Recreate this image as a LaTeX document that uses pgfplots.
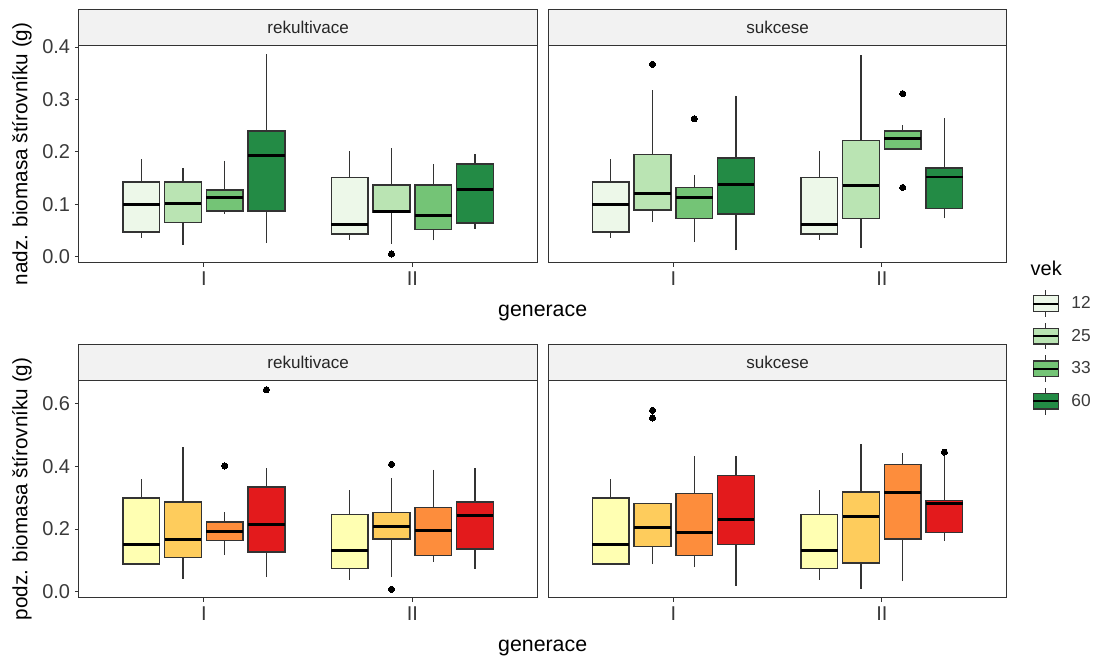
\documentclass[border=0pt]{standalone}
\usepackage{fontspec}
\setmainfont{Liberation Sans}
\usepackage{pgfplots}
\pgfplotsset{compat=1.18}
\usepgfplotslibrary{statistics}
\definecolor{gA}{HTML}{EDF8E9}
\definecolor{gB}{HTML}{BAE4B3}
\definecolor{gC}{HTML}{74C476}
\definecolor{gD}{HTML}{238B45}
\definecolor{oA}{HTML}{FFFFB2}
\definecolor{oB}{HTML}{FECC5C}
\definecolor{oC}{HTML}{FD8D3C}
\definecolor{oD}{HTML}{E31A1C}
\definecolor{gray20}{HTML}{333333}
\definecolor{stripgray}{HTML}{F2F2F2}
\definecolor{ticktext}{HTML}{3A3A3A}
% \bx{position}{fill}{lower whisker}{q1}{median}{q3}{upper whisker}{outliers}
\newcommand{\bx}[8]{\addplot[boxplot prepared={draw position=#1, lower whisker=#3, lower quartile=#4, median=#5, upper quartile=#6, upper whisker=#7, box extend=0.176, whisker extend=0}, boxplot/draw direction=y, fill=#2, draw=gray20, line width=1.1pt, mark=*, mark size=2.3pt, mark options={draw=black, fill=black, line width=0pt}, boxplot/every median/.style={draw=black, line width=2.2pt}, boxplot/every whisker/.style={draw=gray20, line width=0.9pt}] coordinates {#8};}
\pgfplotsset{
  panel/.style={scale only axis, width=344pt, height=163.1pt,
    xmin=0.4, xmax=2.6, xtick={1,2}, xticklabels={I,II},
    tick align=outside, tick pos=left, major tick length=3pt,
    axis line style={draw=gray20, line width=0.8pt},
    every tick/.style={draw=gray20, line width=0.7pt},
    clip=false,
    ticklabel style={font=\fontsize{15}{17}\selectfont, text=ticktext},
    /pgf/number format/assume math mode=true,
    yticklabel style={/pgf/number format/.cd, fixed, fixed zerofill, precision=1},
  },
  toprow/.style={panel, ymin=-0.0115, ymax=0.4034, ytick={0,0.1,0.2,0.3,0.4}},
  botrow/.style={panel, ymin=-0.019, ymax=0.674, ytick={0,0.2,0.4,0.6}},
}
\newcommand{\strip}[1]{\draw[fill=stripgray, draw=gray20, line width=0.8pt] (rel axis cs:0,1) rectangle ([yshift=27pt]rel axis cs:1,1);
  \node[font=\fontsize{12.8}{14}\selectfont, text=black!85] at ([yshift=13.5pt]rel axis cs:0.5,1) {#1};}
\newcommand{\legimg}[1]{\addlegendimage{legend image code/.code={
  \draw[gray20, line width=0.9pt] (9.4pt,5.9pt) -- (9.4pt,10pt) (9.4pt,-5.9pt) -- (9.4pt,-10pt);
  \draw[fill=#1, draw=gray20, line width=1.1pt] (0pt,-5.9pt) rectangle (18.8pt,5.9pt);
  \draw[black, line width=1.6pt] (0pt,0pt) -- (18.8pt,0pt);}}}
\begin{document}
\begin{tikzpicture}
\path[use as bounding box] (0,0) rectangle (823.5pt,-495.75pt);
% ---------- top left ----------
\begin{axis}[toprow, at={(59.1pt,-197.0pt)}, anchor=south west]
\bx{0.7}{gA}{0.036}{0.047}{0.099}{0.142}{0.186}{}
\bx{0.9}{gB}{0.023}{0.065}{0.101}{0.142}{0.170}{}
\bx{1.1}{gC}{0.081}{0.087}{0.112}{0.127}{0.183}{}
\bx{1.3}{gD}{0.026}{0.087}{0.193}{0.240}{0.386}{}
\bx{1.7}{gA}{0.031}{0.043}{0.062}{0.151}{0.201}{}
\bx{1.9}{gB}{0.025}{0.084}{0.086}{0.137}{0.207}{(0,0.005)}
\bx{2.1}{gC}{0.031}{0.052}{0.078}{0.137}{0.177}{}
\bx{2.3}{gD}{0.053}{0.064}{0.128}{0.177}{0.196}{}
\strip{rekultivace}
\end{axis}
% ---------- top right ----------
\begin{axis}[toprow, at={(411.2pt,-197.0pt)}, anchor=south west, yticklabels={}, ytick=\empty,
  legend style={at={(1.0552,-0.124)}, anchor=north west, draw=none, fill=none, inner sep=0pt, outer sep=0pt,
    row sep=3.5pt, column sep=7pt, font=\fontsize{13}{15}\selectfont, text=ticktext, cells={anchor=west}},
  legend cell align=left]
\legimg{gA}\addlegendentry{12}
\legimg{gB}\addlegendentry{25}
\legimg{gC}\addlegendentry{33}
\legimg{gD}\addlegendentry{60}
\bx{0.7}{gA}{0.036}{0.047}{0.099}{0.142}{0.186}{}
\bx{0.9}{gB}{0.067}{0.089}{0.120}{0.195}{0.317}{(0,0.367)}
\bx{1.1}{gC}{0.028}{0.073}{0.112}{0.132}{0.156}{(0,0.263)}
\bx{1.3}{gD}{0.012}{0.081}{0.138}{0.188}{0.307}{}
\bx{1.7}{gA}{0.031}{0.043}{0.062}{0.151}{0.201}{}
\bx{1.9}{gB}{0.017}{0.073}{0.135}{0.222}{0.384}{}
\bx{2.1}{gC}{0.205}{0.205}{0.225}{0.240}{0.251}{(0,0.311) (0,0.132)}
\bx{2.3}{gD}{0.073}{0.092}{0.152}{0.169}{0.264}{}
\strip{sukcese}
\end{axis}
% ---------- bottom left ----------
\begin{axis}[botrow, at={(59.1pt,-448.3pt)}, anchor=south west]
\bx{0.7}{oA}{0.088}{0.088}{0.152}{0.299}{0.358}{}
\bx{0.9}{oB}{0.042}{0.110}{0.166}{0.286}{0.461}{}
\bx{1.1}{oC}{0.117}{0.164}{0.192}{0.222}{0.253}{(0,0.401)}
\bx{1.3}{oD}{0.047}{0.127}{0.213}{0.334}{0.393}{(0,0.644)}
\bx{1.7}{oA}{0.038}{0.075}{0.131}{0.247}{0.323}{}
\bx{1.9}{oB}{0.047}{0.168}{0.209}{0.252}{0.362}{(0,0.406) (0,0.008)}
\bx{2.1}{oC}{0.096}{0.115}{0.196}{0.269}{0.389}{}
\bx{2.3}{oD}{0.074}{0.137}{0.244}{0.286}{0.393}{}
\strip{rekultivace}
\end{axis}
% ---------- bottom right ----------
\begin{axis}[botrow, at={(411.2pt,-448.3pt)}, anchor=south west, yticklabels={}, ytick=\empty]
\bx{0.7}{oA}{0.088}{0.088}{0.152}{0.299}{0.358}{}
\bx{0.9}{oB}{0.087}{0.145}{0.205}{0.282}{0.282}{(0,0.578) (0,0.554)}
\bx{1.1}{oC}{0.078}{0.115}{0.188}{0.313}{0.433}{}
\bx{1.3}{oD}{0.020}{0.150}{0.231}{0.371}{0.433}{}
\bx{1.7}{oA}{0.038}{0.075}{0.131}{0.247}{0.323}{}
\bx{1.9}{oB}{0.008}{0.092}{0.240}{0.318}{0.471}{}
\bx{2.1}{oC}{0.033}{0.168}{0.315}{0.406}{0.441}{}
\bx{2.3}{oD}{0.162}{0.189}{0.280}{0.291}{0.435}{(0,0.445)}
\strip{sukcese}
\end{axis}
% ---------- titles ----------
\node[rotate=90, font=\fontsize{15.5}{17}\selectfont] at (16.5pt,-115.5pt) {nadz. biomasa štírovníku (g)};
\node[rotate=90, font=\fontsize{15.5}{17}\selectfont] at (16.5pt,-366.75pt) {podz. biomasa štírovníku (g)};
\node[font=\fontsize{16}{18}\selectfont] at (407pt,-234.75pt) {generace};
\node[font=\fontsize{16}{18}\selectfont] at (407pt,-486pt) {generace};
\node[anchor=west, font=\fontsize{15}{17}\selectfont] at (769.5pt,-201pt) {vek};
\end{tikzpicture}
\end{document}
